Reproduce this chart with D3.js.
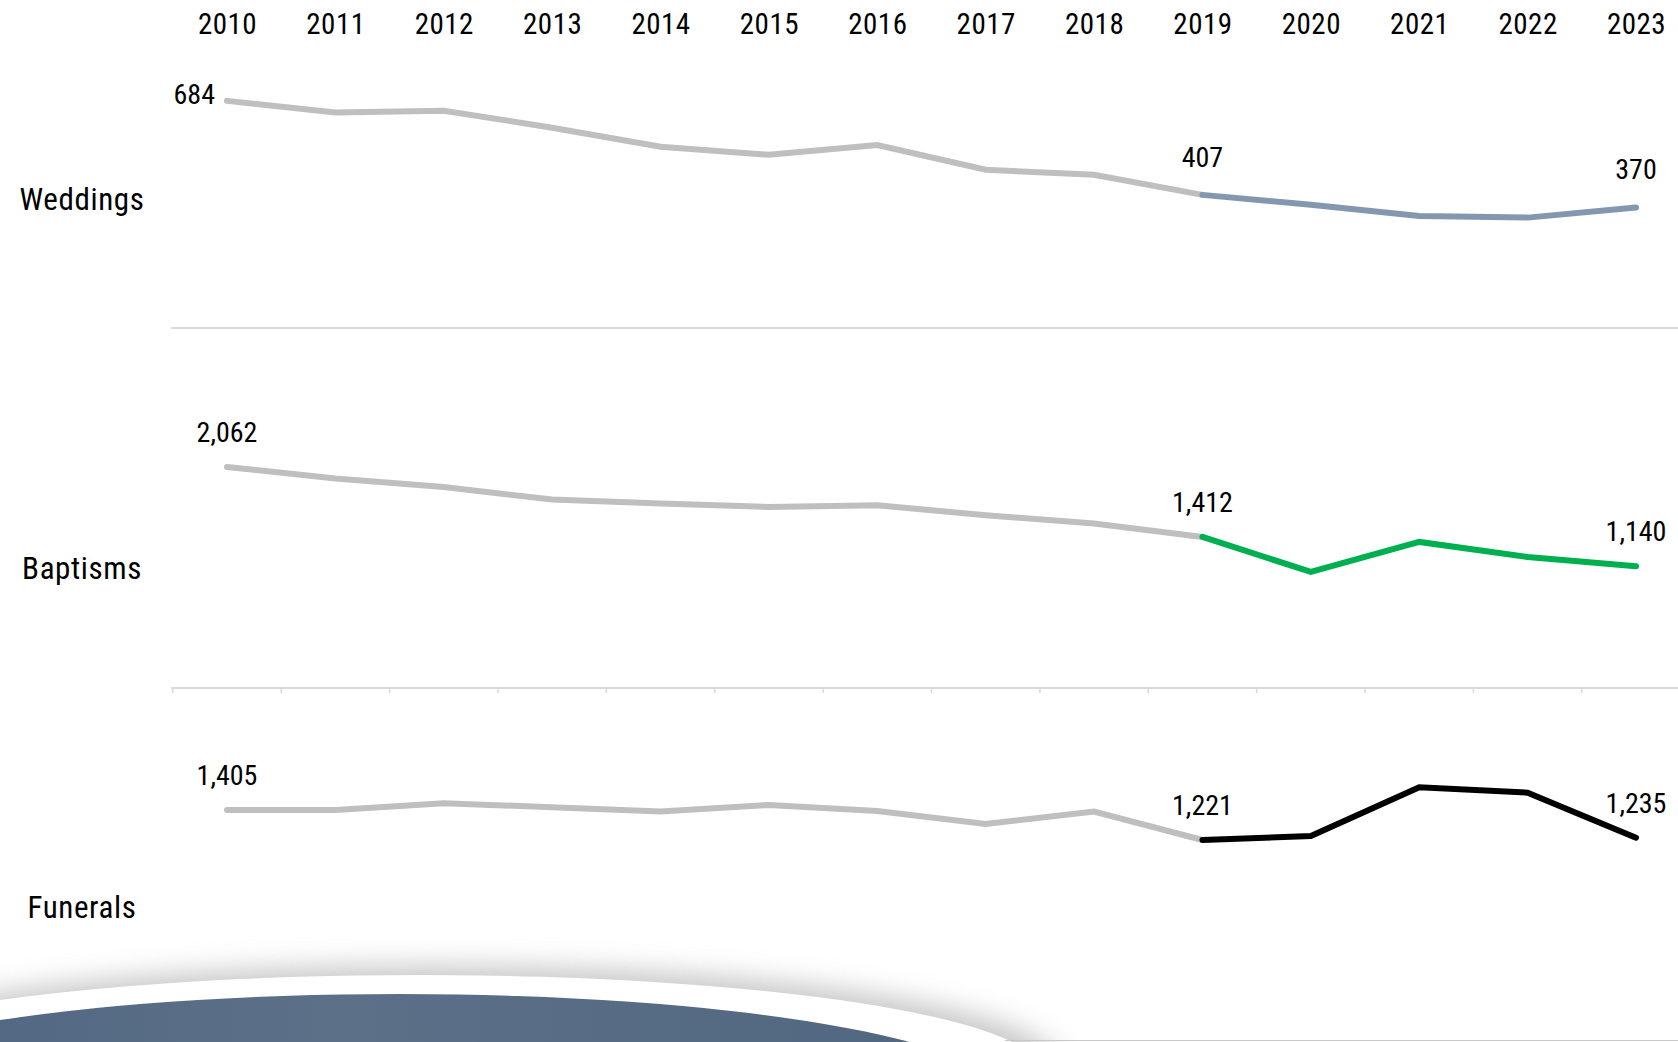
<!DOCTYPE html>
<html>
<head>
<meta charset="utf-8">
<script src="https://cdnjs.cloudflare.com/ajax/libs/d3/7.8.5/d3.min.js"></script>
<style>
  html, body { margin: 0; padding: 0; background: #fff; }
  svg { display: block; }
  text { font-family: "Roboto Condensed", "Liberation Sans Narrow", "DejaVu Sans Condensed", sans-serif; fill: #000; }
</style>
</head>
<body>
<div id="chart"></div>
<script>
// chart values
var years = [2010, 2011, 2012, 2013, 2014, 2015, 2016, 2017, 2018, 2019, 2020, 2021, 2022, 2023];
var categories = ["Weddings", "Baptisms", "Funerals"];
var weddings = [684, 650, 655, 605, 549, 525, 554, 481, 466, 407, 378, 345, 340, 370];
var baptisms = [2062, 1954, 1876, 1759, 1722, 1691, 1706, 1614, 1536, 1412, 1087, 1366, 1226, 1140];
var funerals = [1405, 1405, 1446, 1422, 1395, 1436, 1399, 1319, 1395, 1221, 1245, 1544, 1511, 1235];
var labelledYears = [2010, 2019, 2023];
var highlightFrom = 2019;

var series = [weddings, baptisms, funerals];

// Set dimensions
var WIDTH = 1678,
	HEIGHT = 1042;

// one row per category: baseline y, axis max, highlight colour
var ROWS = [
	{zero: 333, max: 1049, color: "#8497b0", labelY: 199, lift: 28},
	{zero: 689, max: 3306, color: "#00b050", labelY: 568, lift: 25},
	{zero: 1039, max: 2184, color: "#000000", labelY: 907, lift: 25}
];
var ROW_H = 356;

var fmt = d3.format(",");

var xScale = d3.scalePoint().domain(years).range([227, 1636]);
var step = xScale.step();

var svg = d3.select("#chart").append("svg")
	.attr("width", WIDTH)
	.attr("height", HEIGHT);

var defs = svg.append("defs");
defs.append("filter")
	.attr("id", "soft")
	.attr("x", "-20%").attr("y", "-50%")
	.attr("width", "140%").attr("height", "200%")
	.append("feGaussianBlur")
	.attr("stdDeviation", 14);

var grad = defs.append("linearGradient")
	.attr("id", "blueFill")
	.attr("x1", 0).attr("x2", 1).attr("y1", 0).attr("y2", 0);
grad.append("stop").attr("offset", "0%").attr("stop-color", "#4f6480");
grad.append("stop").attr("offset", "45%").attr("stop-color", "#5c7088");
grad.append("stop").attr("offset", "100%").attr("stop-color", "#50657f");

// decorative swoosh at the bottom
var deco = svg.append("g");
deco.append("ellipse")
	.attr("cx", 430).attr("cy", 1066)
	.attr("rx", 630).attr("ry", 100)
	.attr("fill", "#a0a0a0")
	.attr("opacity", 0.6)
	.attr("filter", "url(#soft)");
deco.append("ellipse")
	.attr("cx", 420).attr("cy", 1070)
	.attr("rx", 620).attr("ry", 95)
	.attr("fill", "#ffffff");
deco.append("ellipse")
	.attr("cx", 400).attr("cy", 1096)
	.attr("rx", 600).attr("ry", 102)
	.attr("fill", "url(#blueFill)");
deco.append("line")
	.attr("x1", 1005).attr("x2", WIDTH)
	.attr("y1", 1040.5).attr("y2", 1040.5)
	.attr("stroke", "#c8c8c8")
	.attr("stroke-width", 1);

// year labels along the top
var xAxis = svg.append("g")
	.attr("transform", "translate(0,34)")
	.call(d3.axisTop(xScale).tickSize(0).tickPadding(0));
xAxis.select(".domain").remove();
xAxis.selectAll("text")
	.style("font-size", "29px")
	.style("letter-spacing", "0.5px")
	.attr("fill", "#000");

// separators between rows
svg.append("line")
	.attr("x1", 171).attr("x2", WIDTH)
	.attr("y1", 328).attr("y2", 328)
	.attr("stroke", "#d9d9d9")
	.attr("stroke-width", 2);
svg.append("line")
	.attr("x1", 171).attr("x2", WIDTH)
	.attr("y1", 688).attr("y2", 688)
	.attr("stroke", "#d9d9d9")
	.attr("stroke-width", 2);
svg.append("g").selectAll("line")
	.data(years)
	.enter().append("line")
	.attr("x1", function(d) {return xScale(d) - step/2;})
	.attr("x2", function(d) {return xScale(d) - step/2;})
	.attr("y1", 688).attr("y2", 693)
	.attr("stroke", "#d9d9d9")
	.attr("stroke-width", 1.5);

// draw each row
series.forEach(function(values, s) {
	var row = ROWS[s];
	var yScale = d3.scaleLinear().domain([0, row.max]).range([row.zero, row.zero - ROW_H]);
	var data = years.map(function(y, i) {return {year: y, value: values[i]};});

	var lineGen = d3.line()
		.x(function(d) {return xScale(d.year);})
		.y(function(d) {return yScale(d.value);});

	var g = svg.append("g");

	g.append("text")
		.attr("x", 82)
		.attr("y", row.labelY)
		.attr("dy", "0.35em")
		.style("text-anchor", "middle")
		.style("font-size", "31px")
		.style("letter-spacing", "0.6px")
		.text(categories[s]);

	g.append("path")
		.datum(data.filter(function(d) {return d.year <= highlightFrom;}))
		.attr("d", lineGen)
		.attr("fill", "none")
		.attr("stroke", "#bfbfbf")
		.attr("stroke-width", 6)
		.attr("stroke-linecap", "round");

	g.append("path")
		.datum(data.filter(function(d) {return d.year >= highlightFrom;}))
		.attr("d", lineGen)
		.attr("fill", "none")
		.attr("stroke", row.color)
		.attr("stroke-width", 6)
		.attr("stroke-linecap", "round");

	g.selectAll(".val")
		.data(data.filter(function(d) {return labelledYears.indexOf(d.year) >= 0;}))
		.enter().append("text")
		.attr("class", "val")
		.attr("x", function(d, i) {return (s === 0 && i === 0) ? xScale(d.year) - 12 : xScale(d.year);})
		.attr("y", function(d, i) {return (s === 0 && i === 0) ? yScale(d.value) + 3 : yScale(d.value) - row.lift;})
		.style("text-anchor", function(d, i) {return (s === 0 && i === 0) ? "end" : "middle";})
		.style("font-size", "28px")
		.text(function(d) {return fmt(d.value);});
});
</script>
</body>
</html>
